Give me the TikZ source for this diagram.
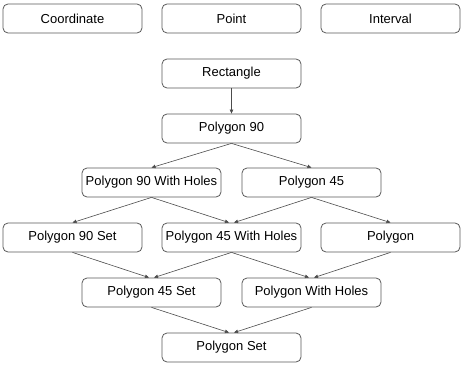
\documentclass[tikz,border=0pt]{standalone}
\usepackage{fontspec}
\setmainfont{Liberation Sans}
\usetikzlibrary{arrows.meta}
\begin{document}
\begin{tikzpicture}[x=1pt,y=-1pt,
  box/.style={draw=black!65,line width=0.8pt,rounded corners=5pt,minimum width=139pt,minimum height=29pt,inner sep=0pt,font=\fontsize{13pt}{15pt}\selectfont},
  link/.style={draw=black!70,line width=0.6pt,-{Triangle[length=4pt,width=3.5pt]}}]
\useasboundingbox (0,0) rectangle (466,369);
\node[box] (coord) at (72.5,18.5) {Coordinate};
\node[box] (point) at (231.5,18.5) {Point};
\node[box] (interval) at (390.5,18.5) {Interval};
\node[box] (rect) at (231.5,73.5) {Rectangle};
\node[box] (p90) at (231.5,128.5) {Polygon 90};
\node[box] (p90wh) at (151.5,182.5) {Polygon 90 With Holes};
\node[box] (p45) at (311.5,182.5) {Polygon 45};
\node[box] (p90set) at (72.5,237.5) {Polygon 90 Set};
\node[box] (p45wh) at (231.5,237.5) {Polygon 45 With Holes};
\node[box] (poly) at (390.5,237.5) {Polygon};
\node[box] (p45set) at (151.5,292.5) {Polygon 45 Set};
\node[box] (pwh) at (311.5,292.5) {Polygon With Holes};
\node[box] (pset) at (231.5,347.5) {Polygon Set};
\draw[link] (rect.south) -- (p90.north);
\draw[link] (p90.south) -- (p90wh.north);
\draw[link] (p90.south) -- (p45.north);
\draw[link] (p90wh.south) -- (p90set.north);
\draw[link] (p90wh.south) -- ([xshift=-2.5pt]p45wh.north);
\draw[link] (p45.south) -- ([xshift=2.5pt]p45wh.north);
\draw[link] (p45.south) -- (poly.north);
\draw[link] (p90set.south) -- ([xshift=-2.5pt]p45set.north);
\draw[link] (p45wh.south) -- ([xshift=2.5pt]p45set.north);
\draw[link] (p45wh.south) -- ([xshift=-2.5pt]pwh.north);
\draw[link] (poly.south) -- ([xshift=2.5pt]pwh.north);
\draw[link] (p45set.south) -- ([xshift=-2.5pt]pset.north);
\draw[link] (pwh.south) -- ([xshift=2.5pt]pset.north);
\end{tikzpicture}
\end{document}
